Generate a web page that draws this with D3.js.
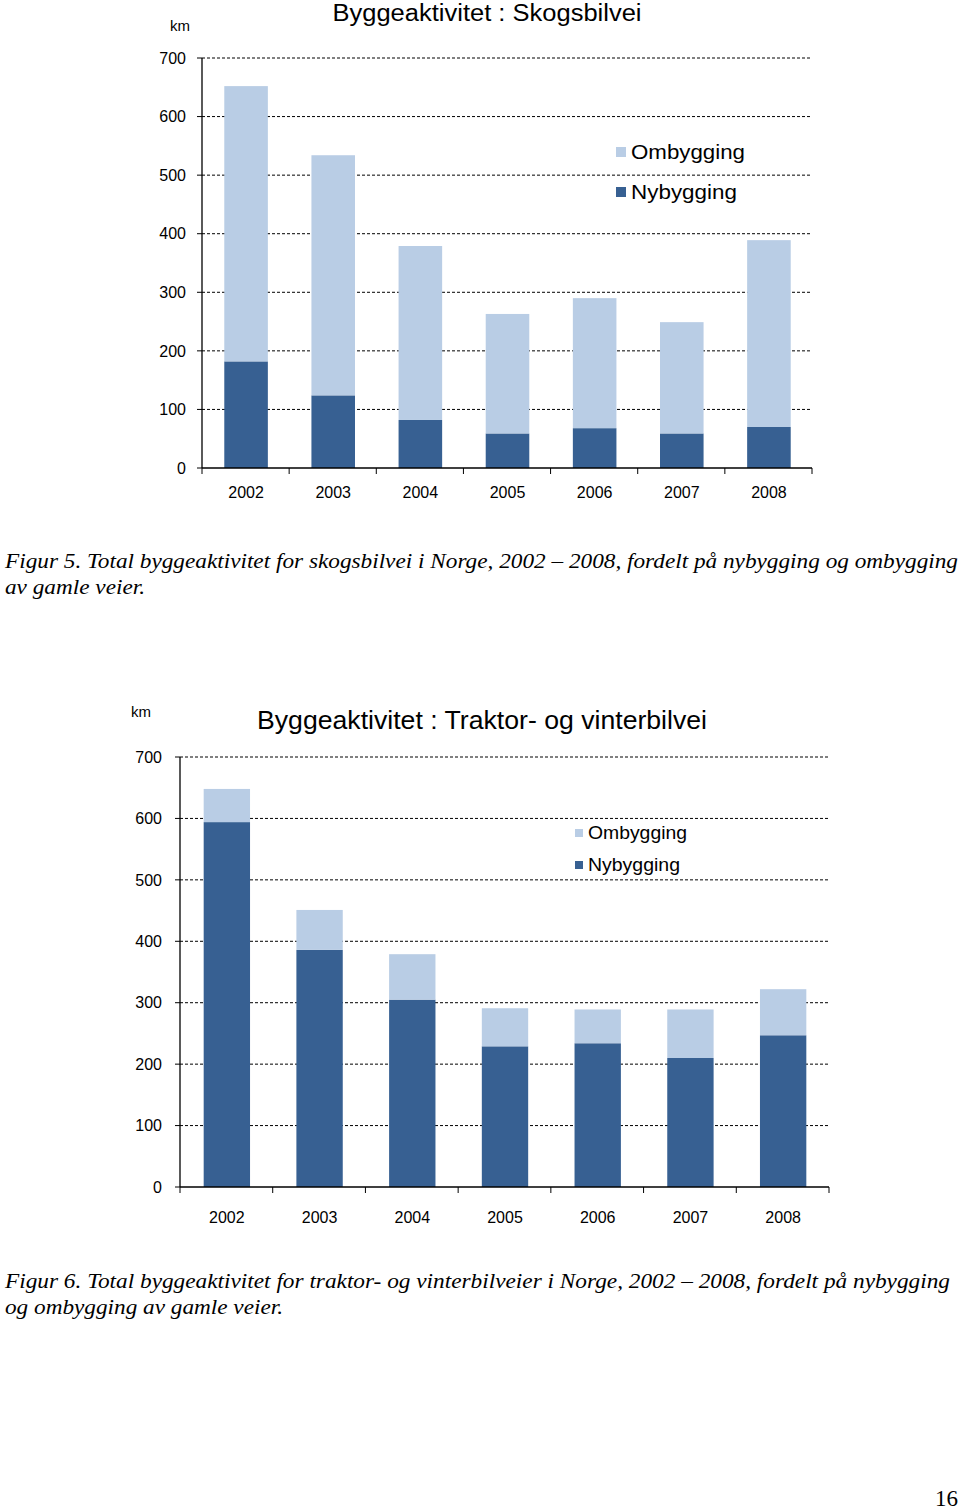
<!DOCTYPE html>
<html><head><meta charset="utf-8">
<script src="https://cdn.jsdelivr.net/npm/d3@7"></script>
<style>body{margin:0;background:#fff}svg{display:block}</style>
</head><body>
<svg id="page" width="960" height="1511"></svg>
<script>
const years = ["2002","2003","2004","2005","2006","2007","2008"];
const yTicks = [0,100,200,300,400,500,600,700];
const seriesNames = ["Nybygging","Ombygging"];
// Figure 5: skogsbilvei (km)
const skogNy   = [182,124,82,59,68,59,70];
const skogOm   = [470,410,297,204,222,190,319];
// Figure 6: traktor- og vinterbilvei (km)
const traktNy  = [594,386,305,229,234,210,247];
const traktOm  = [54,65,74,62,55,79,75];

const colDark = "#376092", colLight = "#b9cde5";
const svg = d3.select("#page");
svg.append("rect").attr("width",960).attr("height",1511).attr("fill","#fff");

function drawChart(o){
  const g = svg.append("g");
  const x = d3.scaleBand().domain(years).range([o.x0,o.x1]).paddingInner(0.5).paddingOuter(0.25);
  const xb = d3.scaleBand().domain(years).range([o.x0,o.x1]);
  const y = d3.scaleLinear().domain([0,700]).range([o.y0,o.y1]);
  g.selectAll("line.grid").data(yTicks.filter(t=>t>0)).join("line")
    .attr("x1",o.x0).attr("x2",o.x1).attr("y1",d=>y(d)).attr("y2",d=>y(d))
    .attr("stroke","#000").attr("stroke-width",1).attr("stroke-dasharray","3,2");
  const rows = years.map((yr,i)=>({year:yr,Nybygging:o.ny[i],Ombygging:o.om[i]}));
  const stack = d3.stack().keys(seriesNames)(rows);
  const colors = {Nybygging:colDark,Ombygging:colLight};
  stack.forEach(s=>{
    g.selectAll(null).data(s).join("rect")
      .attr("x",d=>x(d.data.year)+o.barShift).attr("width",x.bandwidth())
      .attr("y",d=>y(d[1])).attr("height",d=>y(d[0])-y(d[1]))
      .attr("fill",colors[s.key]);
  });
  g.append("line").attr("x1",o.x0).attr("x2",o.x0).attr("y1",o.y0).attr("y2",o.y1).attr("stroke","#000").attr("stroke-width",1.3);
  g.selectAll("line.yt").data(yTicks).join("line")
    .attr("x1",o.x0-5).attr("x2",o.x0).attr("y1",d=>y(d)).attr("y2",d=>y(d)).attr("stroke","#000");
  g.selectAll("text.yl").data(yTicks).join("text")
    .attr("x",o.x0-o.yLabOff).attr("y",d=>y(d)).attr("dy","0.36em").attr("text-anchor","end")
    .attr("font-family","Liberation Sans, Arial, sans-serif").attr("font-size",16).text(d=>d);
  g.append("line").attr("x1",o.x0).attr("x2",o.x1).attr("y1",o.y0).attr("y2",o.y0).attr("stroke","#000").attr("stroke-width",1.3);
  const bounds = years.map(d=>xb(d)).concat([o.x1]);
  g.selectAll("line.xt").data(bounds).join("line")
    .attr("x1",d=>d).attr("x2",d=>d).attr("y1",o.y0).attr("y2",o.y0+6).attr("stroke","#000");
  g.selectAll("text.xl").data(years).join("text")
    .attr("x",d=>x(d)+o.barShift+x.bandwidth()/2).attr("y",o.y0+o.xLabOff).attr("text-anchor","middle")
    .attr("font-family","Liberation Sans, Arial, sans-serif").attr("font-size",16).text(d=>d);
  g.append("text").attr("x",o.titleX).attr("y",o.titleY).attr("text-anchor","middle")
    .attr("font-family","Liberation Sans, Arial, sans-serif").attr("font-size",o.titleSize)
    .attr("textLength",o.titleLen).attr("lengthAdjust","spacingAndGlyphs").text(o.title);
  g.append("text").attr("x",o.kmX).attr("y",o.kmY)
    .attr("font-family","Liberation Sans, Arial, sans-serif").attr("font-size",15).text("km");
  const leg = [{k:"Ombygging",c:colLight,len:o.legLen[0]},{k:"Nybygging",c:colDark,len:o.legLen[1]}];
  leg.forEach((l,i)=>{
    const cy = o.legY + i*o.legGap;
    g.append("rect").attr("x",o.legX).attr("y",cy-o.legSq/2).attr("width",o.legSq).attr("height",o.legSq).attr("fill",l.c);
    g.append("text").attr("x",o.legX+o.legSq+5).attr("y",cy).attr("dy","0.36em")
      .attr("font-family","Liberation Sans, Arial, sans-serif").attr("font-size",o.legFont)
      .attr("textLength",l.len).attr("lengthAdjust","spacingAndGlyphs").text(l.k);
  });
}

drawChart({x0:202,x1:812,y0:468,y1:58,ny:skogNy,om:skogOm,barShift:0.5,yLabOff:16,xLabOff:30,
  title:"Byggeaktivitet : Skogsbilvei",titleX:487,titleY:21,titleSize:23.5,titleLen:309,
  kmX:170,kmY:31,legX:616,legY:152,legGap:40,legSq:10,legFont:20.5,legLen:[114,106]});
drawChart({x0:180,x1:829,y0:1187,y1:757,ny:traktNy,om:traktOm,barShift:0.5,yLabOff:18,xLabOff:36,
  title:"Byggeaktivitet : Traktor- og vinterbilvei",titleX:482,titleY:729,titleSize:26,titleLen:450,
  kmX:131,kmY:717,legX:575,legY:833,legGap:32,legSq:8,legFont:18,legLen:[99,92]});

function caption(lines,x,y0,lens){
  lines.forEach((t,i)=>{
    const tx = svg.append("text").attr("x",x).attr("y",y0+i*26)
      .attr("font-family","Liberation Serif, Times New Roman, serif").attr("font-style","italic")
      .attr("font-size",22).text(t);
    if(lens[i]) tx.attr("textLength",lens[i]).attr("lengthAdjust","spacingAndGlyphs");
  });
}
caption(["Figur 5. Total byggeaktivitet for skogsbilvei i Norge, 2002 – 2008, fordelt på nybygging og ombygging","av gamle veier."],5,568,[953,140]);
caption(["Figur 6. Total byggeaktivitet for traktor- og vinterbilveier i Norge, 2002 – 2008, fordelt på nybygging","og ombygging av gamle veier."],5,1288,[945,278]);
svg.append("text").attr("x",958).attr("y",1506).attr("text-anchor","end")
  .attr("font-family","Liberation Serif, Times New Roman, serif").attr("font-size",23).text("16");
</script>
</body></html>
